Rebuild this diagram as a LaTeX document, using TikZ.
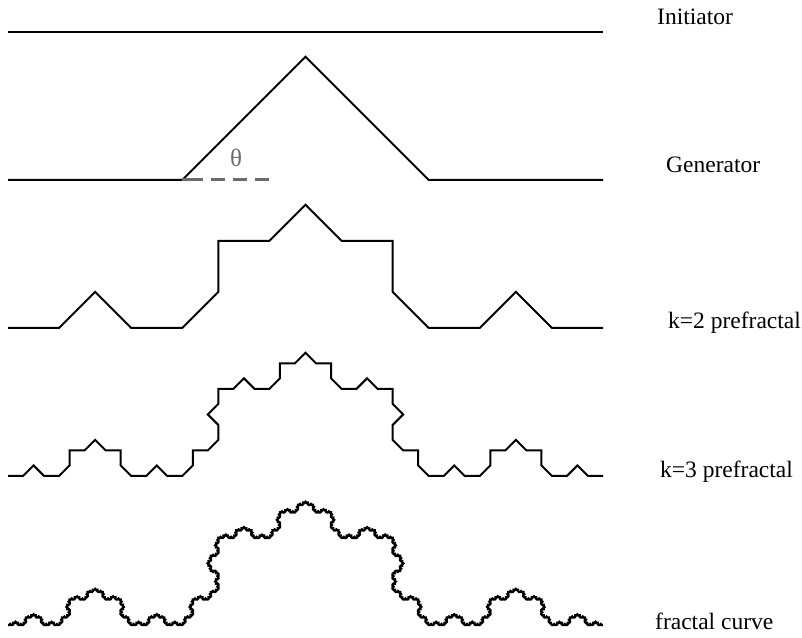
\documentclass[tikz,border=0pt]{standalone}
\usepackage{fontspec}
\setmainfont{Liberation Serif}
\tikzset{
  curve/.style={line width=2pt, black, line join=miter},
  lbl/.style={anchor=base west, inner sep=0pt, font=\fontsize{23.5}{26}\selectfont},
}
\makeatletter
\def\kchPath#1#2#3{%
  \ifnum#1=0\relax
    \xdef\kchP{\kchP -- ++(#2:#3pt)}%
  \else
    \begingroup
    \pgfmathtruncatemacro\kchLv{#1-1}%
    \pgfmathsetmacro\kchL{#3*0.2928932}%
    \pgfmathsetmacro\kchHa{#2+45}%
    \pgfmathsetmacro\kchHb{#2-45}%
    \edef\kchNext{\noexpand\kchPath{\kchLv}{#2}{\kchL}\noexpand\kchPath{\kchLv}{\kchHa}{\kchL}\noexpand\kchPath{\kchLv}{\kchHb}{\kchL}\noexpand\kchPath{\kchLv}{#2}{\kchL}}%
    \kchNext
    \endgroup
  \fi}
\makeatother
\begin{document}
\begin{tikzpicture}[x=1pt,y=1pt]
\useasboundingbox (0,0) rectangle (802,637);
% initiator
\coordinate (i0) at (8,605);
\coordinate (i1) at (603,605);
\draw[curve] (i0) -- (i1);
\node[lbl] (tI) at (657,612) {Initiator};
% generator
\coordinate (g0) at (8,457);
\coordinate (g1) at (182.27,457);
\coordinate (g2) at (305.5,580.23);
\coordinate (g3) at (428.73,457);
\coordinate (g4) at (603,457);
\draw[curve] (g0) -- (g1) -- (g2) -- (g3) -- (g4);
\coordinate (d1) at (270,457);
\draw[gray!85!black, line width=3pt, dash pattern=on 21pt off 8pt on 14pt off 8pt on 14pt off 8pt on 14pt off 100pt] (g1) -- (d1);
\node[gray!85!black, font=\fontsize{25}{27}\selectfont] (th) at (236,479) {θ};
\node[lbl] (tG) at (666,464) {Generator};
% k=2
\coordinate (k2) at (8,309);
\gdef\kchP{}\kchPath{2}{0}{595}%
\edef\kchCmd{\noexpand\draw[curve] (k2) \kchP;}\kchCmd
\node[lbl] (t2) at (668,308) {k=2 prefractal};
% k=3
\coordinate (k3) at (8,161);
\gdef\kchP{}\kchPath{3}{0}{595}%
\edef\kchCmd{\noexpand\draw[curve] (k3) \kchP;}\kchCmd
\node[lbl] (t3) at (660,160) {k=3 prefractal};
% fractal
\coordinate (k5) at (8,12);
\gdef\kchP{}\kchPath{5}{0}{595}%
\edef\kchCmd{\noexpand\draw[curve, line width=2.4pt, line join=miter, miter limit=4] (k5) \kchP;}\kchCmd
\node[lbl] (tF) at (655,8) {fractal curve};
\end{tikzpicture}
\end{document}
